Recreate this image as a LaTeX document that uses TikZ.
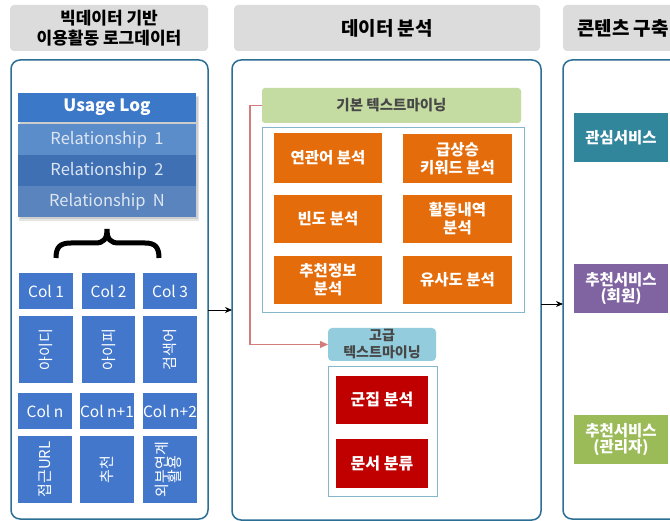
\documentclass[tikz,border=0pt]{standalone}
\usepackage{fontspec}
\setmainfont{Noto Sans CJK KR}
\usetikzlibrary{arrows.meta}
\definecolor{hdrgray}{HTML}{DCDCDC}
\definecolor{panelc}{HTML}{2B6F95}
\definecolor{ulhead}{HTML}{3C78C8}
\definecolor{relA}{HTML}{5C8DCB}
\definecolor{relB}{HTML}{3F70B4}
\definecolor{relC}{HTML}{5A84BD}
\definecolor{reltext}{HTML}{DDE6F3}
\definecolor{cellblue}{HTML}{4277CC}
\definecolor{greenbar}{HTML}{C4DCA2}
\definecolor{contc}{HTML}{86B6CC}
\definecolor{orangec}{HTML}{E46C0A}
\definecolor{redline}{HTML}{D47C7C}
\definecolor{lightblue}{HTML}{93CDDD}
\definecolor{darkred}{HTML}{C00000}
\definecolor{tealc}{HTML}{31869B}
\definecolor{purplec}{HTML}{8064A2}
\definecolor{greenc}{HTML}{9BBB59}
\newcommand\bx[7]{\node[#2, anchor=north west, minimum width={(#5)-(#3)}, minimum height={(#6)-(#4)}] (#1) at (#3,#4) {#7};}
\tikzset{
  base/.style={inner sep=0pt, outer sep=0pt, align=center},
  hdr/.style={base, fill=hdrgray, rounded corners=4pt, text=black, font=\fontsize{17}{20}\selectfont\bfseries},
  hdrbig/.style={hdr, font=\fontsize{19}{22}\selectfont\bfseries},
  panel/.style={base, draw=panelc, line width=1.5pt, rounded corners=9pt},
  ulbox/.style={base, text=white, font=\fontsize{17}{20}\selectfont\bfseries},
  relbox/.style={base, text=reltext, font=\fontsize{16.5}{20}\selectfont},
  cell/.style={base, fill=cellblue, text=white, font=\fontsize{15.5}{18}\selectfont},
  vcell/.style={base, fill=cellblue, text=white, font=\fontsize{15}{16}\selectfont},
  gbar/.style={base, fill=greenbar, rounded corners=3pt, text=black!72, font=\fontsize{14.5}{17}\selectfont\bfseries},
  cont/.style={base, draw=contc, line width=1pt},
  obox/.style={base, fill=orangec, text=white, font=\fontsize{15.5}{18}\selectfont\bfseries},
  lbbox/.style={base, fill=lightblue, rounded corners=4pt, text=black!72, font=\fontsize{14}{17}\selectfont\bfseries},
  rbox/.style={base, fill=darkred, text=white, font=\fontsize{16}{18}\selectfont\bfseries},
  sbox/.style={base, text=white, font=\fontsize{15.5}{16.5}\selectfont\bfseries},
  conn/.style={line width=0.8pt, -{Stealth[length=7pt,width=6pt]}},
}
\begin{document}
\begin{tikzpicture}[x=1pt,y=-1pt]
\useasboundingbox (0,0) rectangle (670,521);
\clip (0,0) rectangle (670,521);
\fill[white] (0,0) rectangle (670,521);
% headers
\bx{h1}{hdr}{10}{5}{208}{51}{빅데이터 기반\\이용활동 로그데이터}
\bx{h2}{hdrbig}{234}{5}{540}{51}{데이터 분석}
\bx{h3}{hdrbig}{563}{5}{683}{51}{콘텐츠 구축}
% panels
\bx{p1}{panel}{11}{60}{208}{519}{}
\bx{p2}{panel}{232}{60}{541}{520}{}
\bx{p3}{panel}{563}{60}{700}{519}{}
% usage log table with shadow
\fill[black, opacity=0.10] (19,96) rectangle (199,221);
\fill[black, opacity=0.10] (20,97) rectangle (198,219);
\bx{ul}{ulbox, fill=ulhead}{18}{93}{196}{122}{Usage Log}
\bx{r1}{relbox, fill=relA}{18}{124}{196}{155}{Relationship\ \ 1}
\bx{r2}{relbox, fill=relB}{18}{155}{196}{186}{Relationship\ \ 2}
\bx{r3}{relbox, fill=relC}{18}{186}{196}{217}{Relationship\ \ N}
% brace
\draw[line width=5pt] (56,258) .. controls (56,247) and (60,243) .. (71,243) -- (95,243) .. controls (104,243) and (107,239) .. (107,229) .. controls (107,239) and (110,243) .. (119,243) -- (145,243) .. controls (155,243) and (159,247) .. (159,258);
% columns
\bx{c11}{cell}{19}{273}{73}{309}{Col 1}
\bx{c12}{cell}{82}{273}{135}{309}{Col 2}
\bx{c13}{cell}{143}{273}{197}{309}{Col 3}
\bx{c21}{vcell}{19}{316}{73}{383}{\rotatebox{90}{아이디}}
\bx{c22}{vcell}{82}{316}{135}{383}{\rotatebox{90}{아이피}}
\bx{c23}{vcell}{143}{316}{197}{383}{\rotatebox{90}{검색어}}
\bx{c31}{cell}{18}{393}{72}{429}{Col n}
\bx{c32}{cell}{80}{393}{134}{429}{Col n+1}
\bx{c33}{cell}{143}{393}{197}{429}{Col n+2}
\bx{c41}{vcell}{18}{436}{72}{503}{\rotatebox{90}{접근URL}}
\bx{c42}{vcell}{80}{436}{134}{503}{\rotatebox{90}{추천}}
\bx{c43}{vcell}{143}{436}{197}{503}{\rotatebox{90}{\begin{tabular}{@{}c@{}}외부연계\\[-4pt]활용\end{tabular}}}
% panel 2
\bx{g1}{gbar}{262}{88}{521}{123}{기본 텍스트마이닝}
\bx{k1}{cont}{262}{128}{524}{313}{}
\bx{o1}{obox}{274}{133}{382}{183}{연관어 분석}
\bx{o2}{obox}{403}{134}{512}{183}{급상승\\키워드 분석}
\bx{o3}{obox}{274}{195}{382}{243}{빈도 분석}
\bx{o4}{obox}{403}{195}{512}{243}{활동내역\\분석}
\bx{o5}{obox}{274}{256}{382}{304}{추천정보\\분석}
\bx{o6}{obox}{403}{256}{512}{304}{유사도 분석}
\bx{g2}{lbbox}{328}{328}{436}{361}{고급\\텍스트마이닝}
\bx{k2}{cont}{328}{367}{437}{496}{}
\bx{x1}{rbox}{336}{376}{428}{424}{군집 분석}
\bx{x2}{rbox}{336}{439}{428}{488}{문서 분류}
% panel 3
\bx{s1}{sbox, fill=tealc}{574}{113}{668}{162}{관심서비스}
\bx{s2}{sbox, fill=purplec}{574}{264}{668}{313}{추천서비스\\(회원)}
\bx{s3}{sbox, fill=greenc}{574}{415}{668}{464}{추천서비스\\(관리자)}
% connectors
\coordinate (yA) at (0,310);
\coordinate (yB) at (0,304);
\draw[conn] (p1.east |- yA) -- (p2.west |- yA);
\draw[conn] (p2.east |- yB) -- (p3.west |- yB);
\draw[redline, line width=1.2pt, -{Triangle[length=8pt,width=7pt]}] (g1.west) -- ++(-12,0) |- (g2.west);
\end{tikzpicture}
\end{document}
